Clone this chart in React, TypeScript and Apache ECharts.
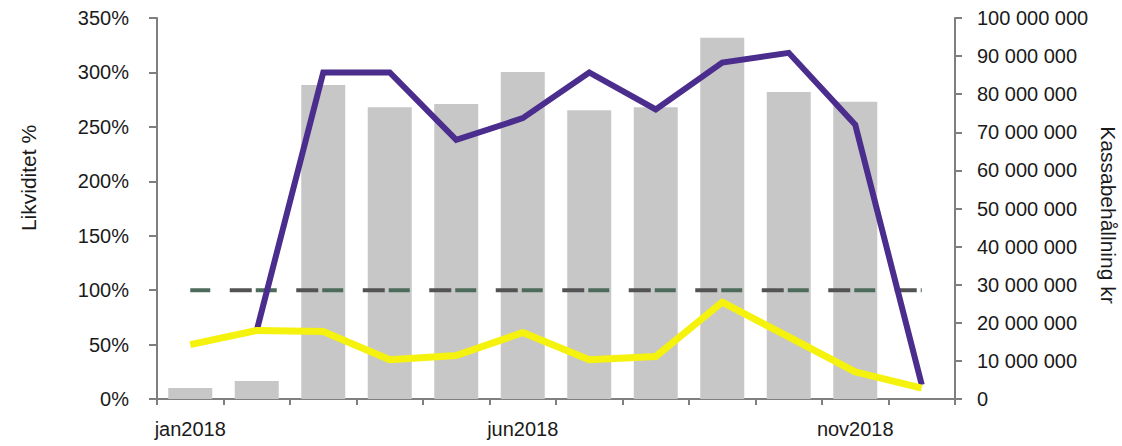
import React, { useEffect, useRef } from "react";
import * as echarts from "echarts";

// Months of 2018
const months = [
  "jan2018", "feb2018", "mar2018", "apr2018", "maj2018", "jun2018",
  "jul2018", "aug2018", "sep2018", "okt2018", "nov2018", "dec2018",
];

// Cash holdings in kronor (right axis)
const cashHoldings = [
  2900000, 4700000, 82400000, 76600000, 77400000, 85800000,
  75800000, 76600000, 94800000, 80600000, 78000000, null,
];

// Liquidity ratio, percent (left axis)
const liquidityMain = [null, 63, 300, 300, 238, 258, 300, 266, 309, 318, 252, 13];
const liquiditySecondary = [50, 63, 62, 36, 40, 61, 36, 39, 89, 57, 25, 10];

// Reference level at 100 %
const referenceLevel = [100, 100, 100, 100, 100, 100, 100, 100, 100, 100, 100, 100];

const FONT = "'Liberation Sans', Arial, sans-serif";
const AXIS_COLOR = "#7f7f7f";
const TEXT_COLOR = "#1a1a1a";

const formatKr = (v: number) => String(v).replace(/\B(?=(\d{3})+(?!\d))/g, " ");

export default function App() {
  const ref = useRef<HTMLDivElement>(null);

  useEffect(() => {
    if (!ref.current) return;
    const chart = echarts.init(ref.current, undefined, { renderer: "svg" });
    chart.setOption({
      animation: false,
      backgroundColor: "#ffffff",
      textStyle: { fontFamily: FONT },
      grid: { left: 157, right: 167, top: 18, bottom: 47, containLabel: false },
      xAxis: {
        type: "category",
        data: months,
        boundaryGap: true,
        axisLine: { show: true, lineStyle: { color: AXIS_COLOR, width: 2 } },
        axisTick: { show: true, interval: 0, length: 6, lineStyle: { color: AXIS_COLOR, width: 2 } },
        axisLabel: {
          interval: 4,
          fontSize: 20,
          color: TEXT_COLOR,
          fontFamily: FONT,
          margin: 20,
          lineHeight: 20,
        },
        splitLine: { show: false },
      },
      yAxis: [
        {
          type: "value",
          min: 0,
          max: 350,
          interval: 50,
          position: "left",
          axisLine: { show: true, lineStyle: { color: AXIS_COLOR, width: 2 } },
          axisTick: { show: true, length: 8, lineStyle: { color: AXIS_COLOR, width: 2 } },
          axisLabel: {
            formatter: "{value}%",
            fontSize: 20,
            color: TEXT_COLOR,
            fontFamily: FONT,
            margin: 28,
          },
          splitLine: { show: false },
        },
        {
          type: "value",
          min: 0,
          max: 100000000,
          interval: 10000000,
          position: "right",
          axisLine: { show: true, lineStyle: { color: AXIS_COLOR, width: 2 } },
          axisTick: { show: true, length: 7, lineStyle: { color: AXIS_COLOR, width: 2 } },
          axisLabel: {
            formatter: (v: number) => formatKr(v),
            fontSize: 20,
            color: TEXT_COLOR,
            fontFamily: FONT,
            margin: 22,
          },
          splitLine: { show: false },
        },
      ],
      graphic: [
        {
          type: "text",
          x: 28,
          y: 178,
          rotation: Math.PI / 2,
          style: {
            text: "Likviditet %",
            fontSize: 21,
            fontFamily: FONT,
            fill: TEXT_COLOR,
            align: "center",
            verticalAlign: "middle",
          },
        },
        {
          type: "text",
          x: 1108,
          y: 215,
          rotation: -Math.PI / 2,
          style: {
            text: "Kassabehållning kr",
            fontSize: 21,
            fontFamily: FONT,
            fill: TEXT_COLOR,
            align: "center",
            verticalAlign: "middle",
          },
        },
      ],
      series: [
        {
          name: "Kassabehållning",
          type: "bar",
          yAxisIndex: 1,
          data: cashHoldings,
          barWidth: 44,
          itemStyle: { color: "#c7c7c7" },
          z: 1,
        },
        {
          name: "Gräns",
          type: "line",
          yAxisIndex: 0,
          data: referenceLevel,
          symbol: "none",
          lineStyle: { color: "#535353", width: 4, type: [22, 44.5], dashOffset: 26.5 },
          z: 2,
        },
        {
          name: "Gräns 2",
          type: "line",
          yAxisIndex: 0,
          data: referenceLevel,
          symbol: "none",
          lineStyle: { color: "#4d6b5b", width: 4, type: [21, 45.5], dashOffset: 0.5 },
          z: 2,
        },
        {
          name: "Likviditet",
          type: "line",
          yAxisIndex: 0,
          data: liquidityMain,
          symbol: "none",
          connectNulls: false,
          lineStyle: { color: "#4a2d8c", width: 6, join: "miter" },
          z: 3,
        },
        {
          name: "Likviditet 2",
          type: "line",
          yAxisIndex: 0,
          data: liquiditySecondary,
          symbol: "none",
          lineStyle: { color: "#f5f20e", width: 7, join: "round" },
          z: 4,
        },
      ],
    });
    return () => chart.dispose();
  }, []);

  return (
    <div
      ref={ref}
      style={{ position: "fixed", left: 0, top: 0, width: 1122, height: 446 }}
    />
  );
}
